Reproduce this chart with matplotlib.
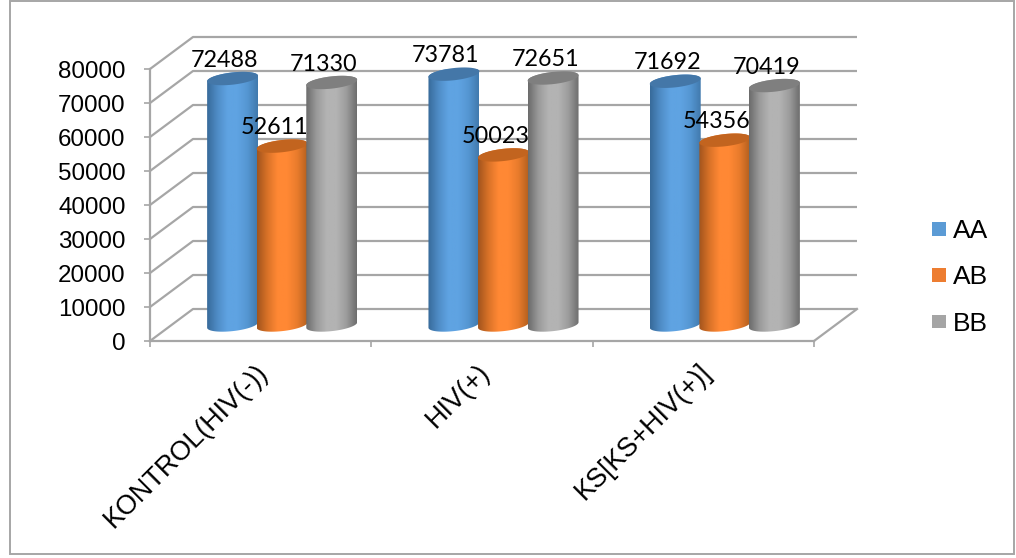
# 3D-style cylinder chart of genotype counts per group

import numpy as np
import matplotlib
matplotlib.use('Agg')
import matplotlib.pyplot as plt
from matplotlib.patches import PathPatch, Patch, Rectangle
from matplotlib.path import Path
from matplotlib.colors import LinearSegmentedColormap

groups = ['KONTROL(HIV(-))', 'HIV(+)', 'KS[KS+HIV(+)]']
genotypes = ['AA', 'AB', 'BB']
aa_values = [72488, 73781, 71692]
ab_values = [52611, 50023, 54356]
bb_values = [71330, 72651, 70419]
y_ticks = [0, 10000, 20000, 30000, 40000, 50000, 60000, 70000, 80000]

W, H = 1016, 558
LEFT, RIGHT, TOP, BOTTOM = 150, 814, 69, 341

# depth of the box, in data units
depth_x = 43 / (RIGHT - LEFT) * 3
depth_y = 32 / (BOTTOM - TOP) * 80000
grid_col = '#a6a6a6'

bar_w = 0.224
rx = 0.115
ry = 1800
tilt = 800

legend_cols = ['#5b9bd5', '#ed7d31', '#a5a5a5']
top_cols = ['#4477a8', '#c2641f', '#7f7f7f']
body_cols = [
    ['#386b9b', '#4f8cc6', '#5fa3e2', '#5fa3e2', '#5596d2', '#417aae'],
    ['#a3551d', '#d97228', '#ff8834', '#ff8834', '#e87b2c', '#b4601f'],
    ['#6c6c6c', '#9a9a9a', '#b3b3b3', '#b3b3b3', '#9c9c9c', '#6e6e6e'],
]

fig = plt.figure(figsize=(W / 100, H / 100), dpi=100)
ax = fig.add_axes([LEFT / W, 1 - BOTTOM / H, (RIGHT - LEFT) / W, (BOTTOM - TOP) / H])
ax.set_xlim(0, 3)
ax.set_ylim(0, 80000)
ax.patch.set_visible(False)

# outer frame
fig.add_artist(Rectangle((10 / W, 1 - 554 / H), 1004 / W, 553.5 / H, transform=fig.transFigure,
                         fill=False, ec='#a6a6a6', lw=1.4))

# walls and floor
for v in y_ticks:
    ax.plot([0, depth_x, 3 + depth_x], [v, v + depth_y, v + depth_y], color=grid_col,
            lw=1.6, clip_on=False, zorder=1, solid_capstyle='butt')
ax.plot([3, 3 + depth_x], [0, depth_y], color=grid_col, lw=1.6, clip_on=False, zorder=1)

for s in ['top', 'right']:
    ax.spines[s].set_visible(False)
for s in ['left', 'bottom']:
    ax.spines[s].set_color(grid_col)
    ax.spines[s].set_linewidth(1.6)

ax.set_yticks(y_ticks)
ax.tick_params(axis='y', length=4.5, width=1.2, color=grid_col, pad=13.2, labelsize=17.4)
ax.set_xticks([0, 1, 2, 3])
ax.set_xticklabels([])
ax.tick_params(axis='x', which='major', length=4.5, width=1.2, color=grid_col)
ax.set_xticks([0.475, 1.475, 2.475], minor=True)
ax.set_xticklabels(groups, minor=True, rotation=45, ha='right', rotation_mode='anchor',
                   fontsize=19.4)
ax.tick_params(axis='x', which='minor', length=0, pad=13)
for lab in ax.get_yticklabels() + ax.get_xticklabels(minor=True):
    lab.set_family('Liberation Sans')
    lab.set_color('black')

t = np.linspace(0, 2 * np.pi, 90)


def ellipse(cx, cy):
    return cx + rx * np.cos(t), cy + ry * np.sin(t) + tilt * np.cos(t)


# cylinders
series = [aa_values, ab_values, bb_values]
for g in range(len(groups)):
    for s, vals in enumerate(series):
        cx = g + 0.5 + depth_x / 2 + (s - 1) * bar_w
        base = depth_y / 2
        top = vals[g] + depth_y / 2
        z = 3 + g * 3 + s

        # body outline: top half back edge plus lower half of the bottom ellipse
        a = np.linspace(0, np.pi, 45)
        xs = np.r_[cx + rx * np.cos(a), cx + rx * np.cos(a + np.pi)]
        ys = np.r_[top + ry * np.sin(a) + tilt * np.cos(a),
                   base - ry * np.sin(a) - tilt * np.cos(a)]
        outline = PathPatch(Path(np.c_[xs, ys]), fc='none', ec='none', transform=ax.transData)
        ax.add_patch(outline)

        cmap = LinearSegmentedColormap.from_list('body', body_cols[s])
        im = ax.imshow(np.linspace(0, 1, 64)[None, :], cmap=cmap, aspect='auto',
                       extent=[cx - rx, cx + rx, base - 2 * ry, top + 2 * ry],
                       zorder=z, clip_on=True)
        im.set_clip_path(outline)

        ex, ey = ellipse(cx, top)
        ax.fill(ex, ey, color=top_cols[s], lw=0, zorder=z, clip_on=False)

        ax.text(cx - 0.036, top + 5400, str(vals[g]), ha='center', va='center', fontsize=16.8,
                family='Lato', color='black', zorder=20, clip_on=False)

ax.set_xlim(0, 3)
ax.set_ylim(0, 80000)

handles = [Patch(fc=c, ec='none', label=n) for c, n in zip(legend_cols, genotypes)]
fig.legend(handles=handles, loc='center left', bbox_to_anchor=(932 / W, 1 - 277.5 / H),
           frameon=False, prop={'family': 'Liberation Sans', 'size': 19},
           handlelength=0.53, handleheight=0.43, handletextpad=0.27, labelspacing=0.85,
           borderpad=0, borderaxespad=0)

fig.savefig('out.png', dpi=100)
